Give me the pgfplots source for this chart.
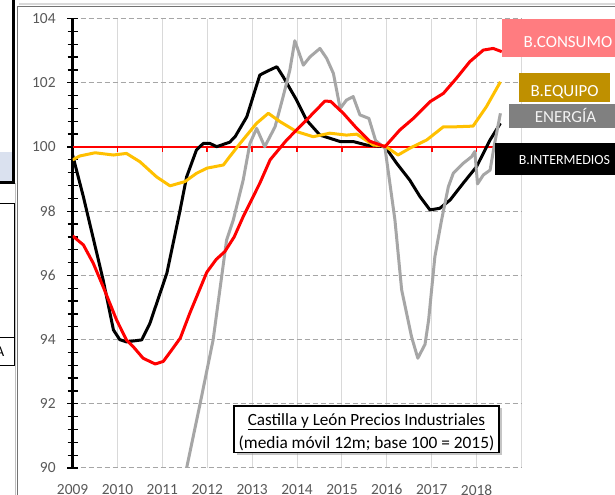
\documentclass[border=0pt]{standalone}
\usepackage{fontspec}
\setmainfont{Carlito}
\usepackage{pgfplots}
\pgfplotsset{compat=1.18}
\usetikzlibrary{shadows}
\definecolor{tickgrey}{HTML}{595959}
\definecolor{ygold}{HTML}{FFC000}
\definecolor{egrey}{HTML}{A6A6A6}
\definecolor{gridgrey}{HTML}{D9D9D9}
\definecolor{dashgrey}{HTML}{A6A6A6}
\definecolor{pinkbox}{HTML}{FF7C80}
\definecolor{goldbox}{HTML}{BF9000}
\definecolor{greybox}{HTML}{808080}
\definecolor{lightblue}{HTML}{DAE1EF}
\begin{document}
\begin{tikzpicture}[x=1bp,y=1bp]
\useasboundingbox (0,0) rectangle (615,495);
\clip (0,0) rectangle (615,495);
\fill[white] (0,0) rectangle (615,495);
% left decorations (parts of neighbouring objects)
\fill[lightblue] (0,343) rectangle (12,313);
\draw[black, line width=3bp] (13.3,495) -- (13.3,312) -- (0,312);
\draw[black!25, line width=1bp] (15.5,312) -- (15.5,0);
\draw[black!55, line width=1bp] (17.5,488.5) -- (17.5,0);
\draw[black!55, line width=1bp] (17.5,488.5) -- (615,488.5);
\draw[black!15, line width=1.5bp] (19,491) -- (615,491);
\draw[black, line width=0.7bp] (0,291.7) -- (14.6,291.7) -- (14.6,130) -- (0,130);
\draw[black, line width=0.7bp] (0,157.7) -- (14.6,157.7);
\node[font=\fontsize{15}{17}\selectfont, anchor=center, inner sep=0pt] at (0,143.5) {A};
\begin{axis}[
  at={(72.6bp,27bp)}, anchor=south west,
  scale only axis, width=448.9bp, height=449.4bp,
  xmin=2009, xmax=2019, ymin=90, ymax=104,
  clip=true,
  axis x line*=bottom, axis y line*=left,
  x axis line style={draw=none},
  y axis line style={black, line width=2.5bp},
  xtick={2009,2010,...,2019},
  xticklabels={2009,2010,2011,2012,2013,2014,2015,2016,2017,2018,{}},
  xtick style={draw=none},
  ytick={90,92,...,104},
  minor y tick num=4,
  tick align=center,
  major tick length=11bp, minor tick length=10bp,
  ytick style={black, line width=1.3bp},
  minor y tick style={black, line width=1.3bp},
  xmajorgrids, ymajorgrids,
  x grid style={gridgrey, line width=1bp},
  y grid style={dashgrey, line width=1bp, dash pattern=on 5bp off 3bp},
  /pgf/number format/assume math mode=true,
  ticklabel style={font=\fontsize{15.5}{17}\selectfont, text=tickgrey},
  xticklabel style={yshift=-7.5bp},
  yticklabel style={xshift=-8bp},
  unbounded coords=jump,
]
% red axis at 100
\addplot[red, line width=2bp, forget plot] coordinates {(2009,100) (2019,100)};
\addplot[red, line width=1.6bp, forget plot] coordinates {
(2010,100) (2010,99.83) (2010,nan) (2011,100) (2011,99.83) (2011,nan)
(2012,100) (2012,99.83) (2012,nan) (2013,100) (2013,99.83) (2013,nan)
(2014,100) (2014,99.83) (2014,nan) (2015,100) (2015,99.83) (2015,nan)
(2016,100) (2016,99.83) (2016,nan) (2017,100) (2017,99.83) (2017,nan)
(2018,100) (2018,99.83)};
% B.INTERMEDIOS
\addplot[black, line width=3bp, line join=round] coordinates {
(2009.00,99.75) (2009.24,98.45) (2009.68,95.86) (2009.91,94.3) (2010.05,94.0) (2010.2,93.93) (2010.54,93.99)
(2010.72,94.5) (2011.1,96.07) (2011.39,98.0) (2011.54,99.07) (2011.76,99.91) (2011.91,100.11)
(2012.06,100.11) (2012.21,100.01) (2012.5,100.15) (2012.62,100.32) (2012.88,100.94) (2013.17,102.24)
(2013.32,102.35) (2013.55,102.5) (2013.69,102.19) (2013.99,101.46) (2014.21,100.84) (2014.51,100.37)
(2014.96,100.17) (2015.25,100.17) (2015.55,100.06) (2015.96,100.01) (2016.22,99.49) (2016.51,98.97)
(2016.74,98.45) (2016.96,98.04) (2017.18,98.09) (2017.41,98.35) (2017.7,98.87) (2018.0,99.39)
(2018.3,100.22) (2018.53,100.74)};
% ENERGIA
\addplot[egrey, line width=3bp, line join=round] coordinates {
(2011.3,88.4) (2011.54,90.0) (2011.84,92.0) (2012.13,93.99) (2012.43,97.1) (2012.58,97.73)
(2012.8,98.97) (2012.95,100.11) (2013.1,100.58) (2013.28,100.01) (2013.51,100.63) (2013.69,101.57)
(2013.84,102.4) (2013.95,103.31) (2014.14,102.55) (2014.29,102.81) (2014.51,103.07) (2014.66,102.76)
(2014.81,102.29) (2014.96,101.2) (2015.1,101.46) (2015.25,101.57) (2015.4,101.0) (2015.6,100.89)
(2015.75,100.2) (2015.96,99.96) (2016.18,97.73) (2016.33,95.55) (2016.55,94.09) (2016.69,93.42)
(2016.85,93.85) (2016.93,94.6) (2017.07,96.58) (2017.22,97.73) (2017.37,98.76) (2017.48,99.18)
(2017.7,99.49) (2017.89,99.7) (2017.96,99.86) (2018.02,98.85) (2018.15,99.13) (2018.3,99.28)
(2018.4,100.1) (2018.53,101.05)};
% B.EQUIPO
\addplot[ygold, line width=3bp, line join=round] coordinates {
(2009.0,99.6) (2009.16,99.72) (2009.5,99.82) (2009.91,99.75) (2010.2,99.8) (2010.5,99.54)
(2010.87,99.07) (2011.17,98.79) (2011.5,98.92) (2011.76,99.18) (2011.99,99.34) (2012.36,99.44)
(2012.5,99.7) (2012.73,100.11) (2013.1,100.74) (2013.36,101.05) (2013.62,100.79) (2013.99,100.48)
(2014.36,100.32) (2014.73,100.43) (2015.1,100.37) (2015.33,100.4) (2015.7,100.06) (2015.96,100.03)
(2016.25,99.75) (2016.51,99.96) (2016.89,100.22) (2017.26,100.63) (2017.55,100.63) (2017.92,100.65)
(2018.22,101.26) (2018.53,102.03)};
% B.CONSUMO
\addplot[red, line width=3bp, line join=round] coordinates {
(2009.0,97.23) (2009.24,96.95) (2009.46,96.38) (2009.68,95.65) (2009.98,94.61) (2010.2,93.99)
(2010.35,93.78) (2010.57,93.42) (2010.84,93.24) (2011.02,93.32) (2011.22,93.7) (2011.4,94.05)
(2011.61,94.82) (2011.99,96.1) (2012.2,96.5) (2012.39,96.74) (2012.6,97.2) (2012.8,97.83)
(2013.17,98.87) (2013.4,99.6) (2013.77,100.22) (2014.21,100.84) (2014.62,101.43) (2014.75,101.42)
(2015.03,101.05) (2015.33,100.58) (2015.62,100.18) (2015.96,100.01) (2016.29,100.53) (2016.59,100.89)
(2016.96,101.41) (2017.26,101.67) (2017.55,102.14) (2017.85,102.66) (2018.15,103.02) (2018.37,103.07)
(2018.56,102.97)};
\end{axis}
% series labels
\fill[pinkbox] (502,475.7) rectangle (615,437.7);
\node[text=white, font=\fontsize{17}{19}\selectfont, inner sep=0pt] at (568,453.2) {B.CONSUMO};
\fill[goldbox] (519,422.3) rectangle (610,393.3);
\node[text=white, font=\fontsize{17}{19}\selectfont, inner sep=0pt] at (564.5,403.3) {B.EQUIPO};
\fill[greybox] (509,391) rectangle (615,366.7);
\node[text=white!95!black, font=\fontsize{17}{19}\selectfont, inner sep=0pt] at (565.5,379.2) {ENERGÍA};
\fill[black] (495,351.7) rectangle (615,320);
\node[text=white, font=\fontsize{14}{16}\selectfont, inner sep=0pt] at (564.5,335) {B.INTERMEDIOS};
% title box
\draw[black, line width=1.2bp, fill=white, drop shadow={shadow xshift=2.5bp, shadow yshift=-2.5bp, fill=black!45}] (234,89) rectangle (499,42.3);
\node[font=\fontsize{17.2}{19}\selectfont, inner sep=0pt] at (366.5,73.3) {\underline{Castilla y León Precios Industriales}};
\node[font=\fontsize{17.4}{19}\selectfont, inner sep=0pt] at (366.5,51.7) {(media móvil 12m; base 100 = 2015)};
\end{tikzpicture}
\end{document}
